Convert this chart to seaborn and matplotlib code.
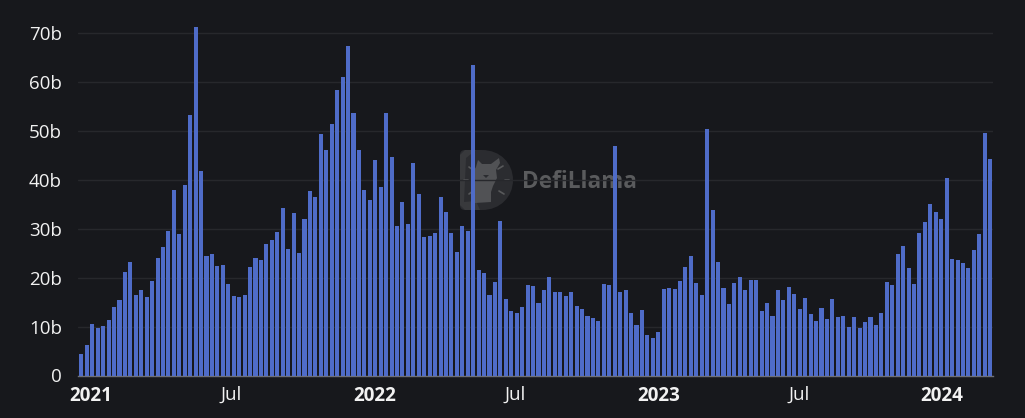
import matplotlib
matplotlib.use("Agg")
import matplotlib.pyplot as plt
import matplotlib.dates as mdates
from matplotlib.lines import Line2D
from matplotlib.patches import PathPatch, Polygon
from matplotlib.path import Path
import pandas as pd
import seaborn as sns

# Weekly volume, billions of USD
volume_2021 = [4.4, 6.2, 10.5, 9.75, 10.1, 11.4, 14.0, 15.4, 21.2, 23.3, 16.5, 17.5, 16.0, 19.4,
               24.0, 26.4, 29.5, 37.9, 29.0, 39.0, 53.3, 71.3, 41.8, 24.4, 24.8, 22.5, 22.6, 18.7,
               16.3, 16.0, 16.5, 22.2, 24.0, 23.6, 27.0, 27.8, 29.3, 34.3, 25.9, 33.2, 25.0, 32.1,
               37.7, 36.5, 49.5, 46.2, 51.4, 58.5, 61.0, 67.5, 53.7, 46.2, 38.0]
volume_2022 = [35.9, 44.1, 38.5, 53.8, 44.7, 30.5, 35.5, 31.0, 43.5, 37.2, 28.3, 28.6, 29.2, 36.5,
               33.5, 29.2, 25.2, 30.5, 29.6, 63.5, 21.5, 20.9, 16.5, 19.1, 31.7, 15.7, 13.3, 12.7,
               14.1, 18.6, 18.3, 14.9, 17.5, 20.1, 17.1, 17.1, 16.3, 17.1, 14.3, 13.7, 12.2, 11.8,
               11.1, 18.8, 18.6, 47.0, 17.1, 17.4, 12.8, 10.3, 13.4, 8.3, 7.6]
volume_2023 = [8.9, 17.8, 17.9, 17.7, 19.4, 22.3, 24.4, 18.9, 16.5, 50.4, 33.8, 23.3, 17.9, 14.7,
               18.9, 20.1, 17.5, 19.5, 19.5, 13.2, 14.8, 12.2, 17.6, 15.5, 18.1, 16.6, 13.6, 15.8,
               12.6, 11.1, 13.8, 11.5, 15.6, 11.9, 12.1, 10.0, 11.9, 9.8, 11.0, 11.9, 10.4, 12.8,
               19.2, 18.6, 24.8, 26.5, 22.0, 18.8, 29.1, 31.4, 35.2, 33.5, 32.0, 40.5]
volume_2024 = [23.9, 23.6, 23.0, 22.0, 25.6, 29.0, 49.7, 44.3]
volume = volume_2021 + volume_2022 + volume_2023 + volume_2024

y_ticks = [0, 10, 20, 30, 40, 50, 60, 70]
y_tick_labels = ["0", "10b", "20b", "30b", "40b", "50b", "60b", "70b"]
x_tick_dates = ["2021-01-01", "2021-07-01", "2022-01-01", "2022-07-01",
                "2023-01-01", "2023-07-01", "2024-01-01"]
x_tick_labels = ["2021", "Jul", "2022", "Jul", "2023", "Jul", "2024"]

BG = "#17181c"
BAR = "#4f6cc8"
GRID = "#27282c"
TEXT = "#f2f2f2"

weeks = pd.date_range("2020-12-20", periods=len(volume), freq="7D")
df = pd.DataFrame({"week": mdates.date2num(weeks), "volume": volume})

W, H = 1025, 418
sns.set_theme(style="dark")
plt.rcParams["font.family"] = ["Open Sans", "DejaVu Sans"]

fig = plt.figure(figsize=(W / 100, H / 100), dpi=100, facecolor=BG)
left, right, base, top = 78.0, 992.5, 375.5, 9.0
ax = fig.add_axes([left / W, 1 - base / H, (right - left) / W, (base - top) / H], facecolor=BG)

# Pixel scale: 2021-01-01 sits at x=90.7, 2024-01-01 at x=942; 10b spans 48.86 px
d0 = mdates.date2num(pd.Timestamp("2021-01-01"))
per_day = (942.0 - 90.7) / 1095
x_lo = d0 + (left - 90.7) / per_day
x_hi = d0 + (right - 90.7) / per_day

sns.barplot(data=df, x="week", y="volume", native_scale=True, color=BAR, saturation=1,
            width=0.75, linewidth=0, ax=ax, zorder=3)
ax.set_xlim(x_lo, x_hi)
ax.set_ylim(0, (base - top) / 4.886)
ax.set_xlabel("")
ax.set_ylabel("")

ax.set_yticks(y_ticks)
ax.set_yticklabels(y_tick_labels, fontsize=13.5, color=TEXT)
ax.tick_params(axis="y", length=0, pad=11.5)
ax.grid(axis="y", color=GRID, linewidth=1, zorder=0)
ax.grid(axis="x", visible=False)
ax.set_axisbelow(True)

ax.set_xticks(mdates.date2num(pd.to_datetime(x_tick_dates)))
ax.set_xticklabels(x_tick_labels, fontsize=13.5, color=TEXT)
ax.tick_params(axis="x", length=4.5, width=1, color="#d8d8d8", pad=3)
for lab in ax.get_xticklabels():
    if lab.get_text() != "Jul":
        lab.set_fontweight("bold")

for side, spine in ax.spines.items():
    spine.set_visible(side == "bottom")
ax.spines["bottom"].set_color("#6e7079")
ax.spines["bottom"].set_linewidth(1)


# Watermark, behind the bars: rounded D badge, llama, sun rays, wordmark
def to_fig(points):
    return [(x / W, 1 - y / H) for x, y in points]


d_pts = [(465, 150), (482, 150), (500, 150), (513, 163), (513, 180), (513, 197), (500, 210),
         (482, 210), (465, 210), (460, 210), (460, 205), (460, 155), (460, 150), (465, 150), (465, 150)]
d_codes = [Path.MOVETO, Path.LINETO, Path.CURVE4, Path.CURVE4, Path.CURVE4, Path.CURVE4, Path.CURVE4,
           Path.CURVE4, Path.LINETO, Path.CURVE3, Path.CURVE3, Path.LINETO, Path.CURVE3, Path.CURVE3,
           Path.CLOSEPOLY]
fig.add_artist(PathPatch(Path(to_fig(d_pts), d_codes), transform=fig.transFigure,
                         facecolor="#2b2c30", edgecolor="none", zorder=1))
fig.add_artist(Polygon(to_fig([(460, 155), (465, 150), (476, 150), (466, 158), (464, 202), (476, 201),
                               (480, 210), (465, 210), (460, 205)]),
                       transform=fig.transFigure, facecolor="#38393c", edgecolor="none", zorder=1))
fig.add_artist(Polygon(to_fig([(475, 203), (475, 178), (473, 172), (476, 167), (478, 160), (482, 164),
                               (491, 164), (499, 158), (500, 163), (496, 170), (497, 178), (493, 186),
                               (491, 192), (491, 202)]),
                       transform=fig.transFigure, facecolor="#515255", edgecolor="none", zorder=1))
fig.add_artist(Polygon(to_fig([(483, 175), (489, 175), (486, 178)]),
                       transform=fig.transFigure, facecolor="#2b2c30", edgecolor="none", zorder=1))
for x0, y0, x1, y1 in [(464, 180, 468, 180), (505, 180, 509, 180), (498, 169, 503, 166),
                       (499, 191, 504, 194), (469, 167, 473, 170), (469, 194, 473, 191)]:
    fig.add_artist(Line2D([x0 / W, x1 / W], [1 - y0 / H, 1 - y1 / H], transform=fig.transFigure,
                          color="#58595b", linewidth=1.2, zorder=1))
fig.text(522 / W, 1 - 181.5 / H, "DefiLlama", fontsize=16.3, fontweight="bold", color="#5a5b5d",
         ha="left", va="center", zorder=1)

# Axes stay see-through so the watermark shows between the bars
ax.patch.set_alpha(0)
ax.set_zorder(2)

fig.savefig("out.png", dpi=100, facecolor=BG)
